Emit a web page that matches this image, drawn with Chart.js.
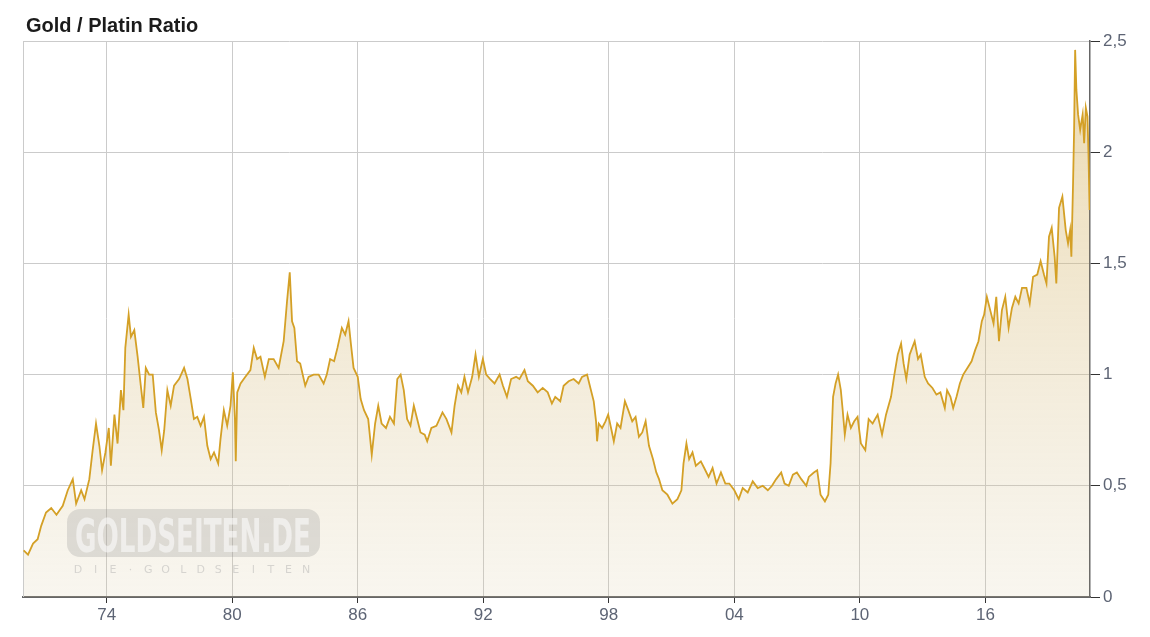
<!DOCTYPE html>
<html>
<head>
<meta charset="utf-8">
<title>Gold / Platin Ratio</title>
<script src="https://cdn.jsdelivr.net/npm/chart.js@4/dist/chart.umd.min.js"></script>
<style>
  html, body { margin: 0; padding: 0; background: #fff; }
  canvas { display: block; }
</style>
</head>
<body>
<canvas id="chart" width="1150" height="637"></canvas>
<script>
// values (decimal year -> gold/platinum ratio)
const years = [
  1970.03, 1970.24, 1970.48, 1970.7, 1970.87, 1971.1, 1971.35, 1971.6, 1971.9, 1972.14,
  1972.38, 1972.54, 1972.78, 1972.94, 1973.17, 1973.33, 1973.49, 1973.65, 1973.78, 1973.94,
  1974.1, 1974.2, 1974.37, 1974.52, 1974.68, 1974.8, 1974.89, 1975.05, 1975.16, 1975.32,
  1975.48, 1975.63, 1975.75, 1975.87, 1976.03, 1976.2, 1976.35, 1976.5, 1976.63, 1976.75,
  1976.9, 1977.06, 1977.22, 1977.46, 1977.7, 1977.86, 1978.02, 1978.17, 1978.33, 1978.49,
  1978.65, 1978.81, 1978.97, 1979.13, 1979.33, 1979.44, 1979.6, 1979.76, 1979.92, 1980.03,
  1980.13, 1980.17, 1980.24, 1980.4, 1980.63, 1980.87, 1981.03, 1981.19, 1981.35, 1981.56,
  1981.75, 1981.98, 1982.22, 1982.46, 1982.62, 1982.75, 1982.86, 1982.97, 1983.1, 1983.25,
  1983.49, 1983.65, 1983.89, 1984.13, 1984.37, 1984.52, 1984.68, 1984.87, 1985.03, 1985.24,
  1985.4, 1985.56, 1985.67, 1985.8, 1986.0, 1986.14, 1986.3, 1986.5, 1986.67, 1986.83,
  1986.98, 1987.14, 1987.35, 1987.54, 1987.73, 1987.89, 1988.05, 1988.2, 1988.36, 1988.52,
  1988.68, 1988.84, 1989.0, 1989.2, 1989.32, 1989.52, 1989.76, 1990.05, 1990.24, 1990.48,
  1990.63, 1990.79, 1990.95, 1991.1, 1991.27, 1991.47, 1991.63, 1991.79, 1991.98, 1992.14,
  1992.33, 1992.54, 1992.78, 1992.94, 1993.13, 1993.33, 1993.57, 1993.73, 1993.97, 1994.13,
  1994.37, 1994.6, 1994.84, 1995.08, 1995.28, 1995.44, 1995.68, 1995.84, 1996.08, 1996.32,
  1996.56, 1996.72, 1996.96, 1997.12, 1997.28, 1997.39, 1997.44, 1997.52, 1997.68, 1997.84,
  1997.97, 1998.13, 1998.24, 1998.4, 1998.56, 1998.77, 1998.93, 1999.12, 1999.28, 1999.44,
  1999.6, 1999.76, 1999.92, 2000.11, 2000.27, 2000.4, 2000.56, 2000.8, 2001.04, 2001.28,
  2001.47, 2001.57, 2001.71, 2001.84, 2002.0, 2002.16, 2002.4, 2002.56, 2002.77, 2002.96,
  2003.15, 2003.36, 2003.57, 2003.76, 2004.0, 2004.21, 2004.4, 2004.64, 2004.88, 2005.12,
  2005.36, 2005.6, 2005.8, 2006.0, 2006.24, 2006.4, 2006.6, 2006.8, 2006.99, 2007.2,
  2007.44, 2007.56, 2007.8, 2007.96, 2008.12, 2008.33, 2008.49, 2008.6, 2008.72, 2008.84,
  2008.96, 2009.09, 2009.17, 2009.28, 2009.41, 2009.57, 2009.73, 2009.89, 2010.05, 2010.26,
  2010.42, 2010.61, 2010.85, 2011.06, 2011.25, 2011.49, 2011.65, 2011.81, 2011.97, 2012.09,
  2012.22, 2012.38, 2012.62, 2012.78, 2012.91, 2013.1, 2013.26, 2013.47, 2013.66, 2013.85,
  2014.06, 2014.17, 2014.33, 2014.46, 2014.62, 2014.78, 2014.94, 2015.14, 2015.34, 2015.51,
  2015.67, 2015.83, 2015.94, 2016.07, 2016.23, 2016.39, 2016.52, 2016.65, 2016.79, 2016.95,
  2017.11, 2017.27, 2017.43, 2017.59, 2017.75, 2017.96, 2018.12, 2018.28, 2018.48, 2018.64,
  2018.8, 2018.92, 2019.04, 2019.17, 2019.31, 2019.39, 2019.52, 2019.68, 2019.84, 2019.95,
  2020.05, 2020.11, 2020.19, 2020.24, 2020.29, 2020.35, 2020.43, 2020.53, 2020.65, 2020.72,
  2020.8, 2020.88, 2020.93, 2020.98
];

const ratio = [
  0.21, 0.19, 0.24, 0.26, 0.32, 0.38, 0.40, 0.37, 0.41, 0.48,
  0.53, 0.42, 0.48, 0.44, 0.53, 0.66, 0.78, 0.68, 0.57, 0.65,
  0.76, 0.59, 0.82, 0.69, 0.93, 0.84, 1.12, 1.27, 1.17, 1.20,
  1.08, 0.95, 0.85, 1.03, 1.00, 1.00, 0.83, 0.75, 0.66, 0.75,
  0.93, 0.86, 0.95, 0.98, 1.03, 0.98, 0.89, 0.80, 0.81, 0.77,
  0.81, 0.68, 0.62, 0.65, 0.60, 0.71, 0.84, 0.77, 0.86, 1.01,
  0.80, 0.61, 0.92, 0.96, 0.99, 1.02, 1.12, 1.07, 1.08, 0.99,
  1.07, 1.07, 1.03, 1.15, 1.33, 1.46, 1.24, 1.21, 1.06, 1.05,
  0.95, 0.99, 1.00, 1.00, 0.96, 1.00, 1.07, 1.06, 1.12, 1.21,
  1.18, 1.24, 1.14, 1.03, 0.99, 0.89, 0.84, 0.80, 0.64, 0.78,
  0.86, 0.78, 0.76, 0.81, 0.78, 0.98, 1.00, 0.93, 0.80, 0.77,
  0.86, 0.80, 0.74, 0.73, 0.70, 0.76, 0.77, 0.83, 0.80, 0.74,
  0.86, 0.95, 0.92, 0.99, 0.92, 0.99, 1.09, 0.99, 1.07, 1.00,
  0.98, 0.96, 1.00, 0.95, 0.90, 0.98, 0.99, 0.98, 1.02, 0.97,
  0.95, 0.92, 0.94, 0.92, 0.87, 0.90, 0.88, 0.95, 0.97, 0.98,
  0.96, 0.99, 1.00, 0.94, 0.88, 0.79, 0.70, 0.78, 0.76, 0.79,
  0.82, 0.75, 0.70, 0.78, 0.76, 0.88, 0.84, 0.79, 0.81, 0.72,
  0.74, 0.79, 0.68, 0.62, 0.56, 0.53, 0.48, 0.46, 0.42, 0.44,
  0.48, 0.60, 0.69, 0.62, 0.65, 0.59, 0.61, 0.58, 0.54, 0.58,
  0.51, 0.56, 0.51, 0.51, 0.48, 0.44, 0.49, 0.47, 0.52, 0.49,
  0.50, 0.48, 0.50, 0.53, 0.56, 0.51, 0.50, 0.55, 0.56, 0.53,
  0.50, 0.54, 0.56, 0.57, 0.46, 0.43, 0.46, 0.60, 0.90, 0.96,
  1.00, 0.93, 0.85, 0.73, 0.82, 0.76, 0.79, 0.81, 0.69, 0.66,
  0.80, 0.78, 0.82, 0.73, 0.82, 0.90, 1.00, 1.09, 1.14, 1.05,
  0.98, 1.09, 1.15, 1.07, 1.09, 0.99, 0.96, 0.94, 0.91, 0.92,
  0.85, 0.93, 0.90, 0.85, 0.90, 0.96, 1.00, 1.03, 1.06, 1.11,
  1.15, 1.24, 1.27, 1.35, 1.29, 1.23, 1.35, 1.15, 1.29, 1.35,
  1.21, 1.30, 1.35, 1.32, 1.39, 1.39, 1.32, 1.44, 1.45, 1.51,
  1.45, 1.41, 1.62, 1.66, 1.53, 1.41, 1.75, 1.80, 1.65, 1.59,
  1.65, 1.53, 1.86, 2.10, 2.46, 2.28, 2.17, 2.10, 2.17, 2.04,
  2.20, 2.16, 1.98, 1.74
];

const xTickYears = [1974, 1980, 1986, 1992, 1998, 2004, 2010, 2016];
const yTickValues = [0, 0.5, 1, 1.5, 2, 2.5];

const titleText = "Gold / Platin Ratio";
const labelColor = "#5d6474";
const gridColor = "#cbcbcb";
const axisColor = "#666";
const fontFamily = "'Liberation Sans', Arial, sans-serif";

const points = years.map((y, i) => ({ x: y, y: ratio[i] }));

// title, left border and the site watermark
const decorations = {
  id: "decorations",
  beforeDatasetsDraw(chart) {
    const { ctx, chartArea } = chart;
    ctx.save();
    ctx.strokeStyle = gridColor;
    ctx.lineWidth = 1;
    ctx.beginPath();
    ctx.moveTo(chartArea.left + 0.5, chartArea.top);
    ctx.lineTo(chartArea.left + 0.5, chartArea.bottom);
    ctx.stroke();
    ctx.restore();
  },
  afterDatasetsDraw(chart) {
    const { ctx } = chart;
    ctx.save();
    // watermark box
    ctx.fillStyle = "rgba(150,150,150,0.28)";
    ctx.beginPath();
    ctx.roundRect(67, 509, 253, 48, 13);
    ctx.fill();
    ctx.fillStyle = "rgba(255,255,255,0.55)";
    ctx.font = "bold 46px 'DejaVu Sans Condensed', 'DejaVu Sans'";
    ctx.textBaseline = "alphabetic";
    ctx.textAlign = "left";
    ctx.fillText("GOLDSEITEN.DE", 75, 552, 236);
    // subtitle with spaced letters
    const sub = "DIE·GOLDSEITEN";
    ctx.fillStyle = "rgba(170,170,170,0.45)";
    ctx.font = "11px 'DejaVu Sans'";
    ctx.textAlign = "center";
    const x0 = 78, x1 = 306;
    for (let i = 0; i < sub.length; i++) {
      ctx.fillText(sub[i], x0 + (x1 - x0) * i / (sub.length - 1), 573);
    }
    ctx.restore();
  },
  afterDraw(chart) {
    const { ctx } = chart;
    ctx.save();
    ctx.fillStyle = "#1b1b1b";
    ctx.font = "bold 20px " + fontFamily;
    ctx.textBaseline = "alphabetic";
    ctx.textAlign = "left";
    ctx.fillText(titleText, 26, 32);
    ctx.restore();
  }
};

const ctx = document.getElementById("chart").getContext("2d");

new Chart(ctx, {
  type: "line",
  data: {
    datasets: [
      {
        label: "Gold / Platin Ratio",
        data: points,
        borderColor: "rgb(212,160,38)",
        borderWidth: 1.8,
        pointRadius: 0,
        tension: 0,
        fill: "origin",
        backgroundColor: (c) => {
          const area = c.chart.chartArea;
          if (!area) return "rgba(220,200,150,0.3)";
          const g = c.chart.ctx.createLinearGradient(0, area.top, 0, area.bottom);
          g.addColorStop(0, "rgba(215,175,85,0.48)");
          g.addColorStop(1, "rgba(215,200,160,0.17)");
          return g;
        },
      },
    ],
  },
  options: {
    responsive: false,
    devicePixelRatio: 1,
    animation: false,
    layout: { padding: { left: 23, top: 41, right: 0, bottom: 0 } },
    plugins: {
      legend: { display: false },
      tooltip: { enabled: false },
    },
    scales: {
      x: {
        type: "linear",
        min: 1970,
        max: 2021,
        afterBuildTicks: (scale) => {
          scale.ticks = xTickYears.map((v) => ({ value: v }));
        },
        afterFit: (scale) => {
          scale.height = 40;
        },
        ticks: {
          autoSkip: false,
          maxRotation: 0,
          color: labelColor,
          font: { family: fontFamily, size: 17 },
          padding: 2,
          callback: (v) => String(v % 100).padStart(2, "0"),
        },
        grid: {
          color: gridColor,
          lineWidth: 1,
          tickLength: 6,
          tickColor: "#333",
        },
        border: { color: axisColor, width: 2 },
      },
      y: {
        position: "right",
        min: 0,
        max: 2.5,
        afterBuildTicks: (scale) => {
          scale.ticks = yTickValues.map((v) => ({ value: v }));
        },
        afterFit: (scale) => {
          scale.width = 60;
        },
        ticks: {
          color: labelColor,
          font: { family: fontFamily, size: 17 },
          padding: 3,
          callback: (v) => String(v).replace(".", ","),
        },
        grid: {
          color: gridColor,
          lineWidth: 1,
          tickLength: 10,
          tickColor: "#333",
        },
        border: { color: axisColor, width: 1.5 },
      },
    },
  },
  plugins: [decorations],
});
</script>
</body>
</html>
